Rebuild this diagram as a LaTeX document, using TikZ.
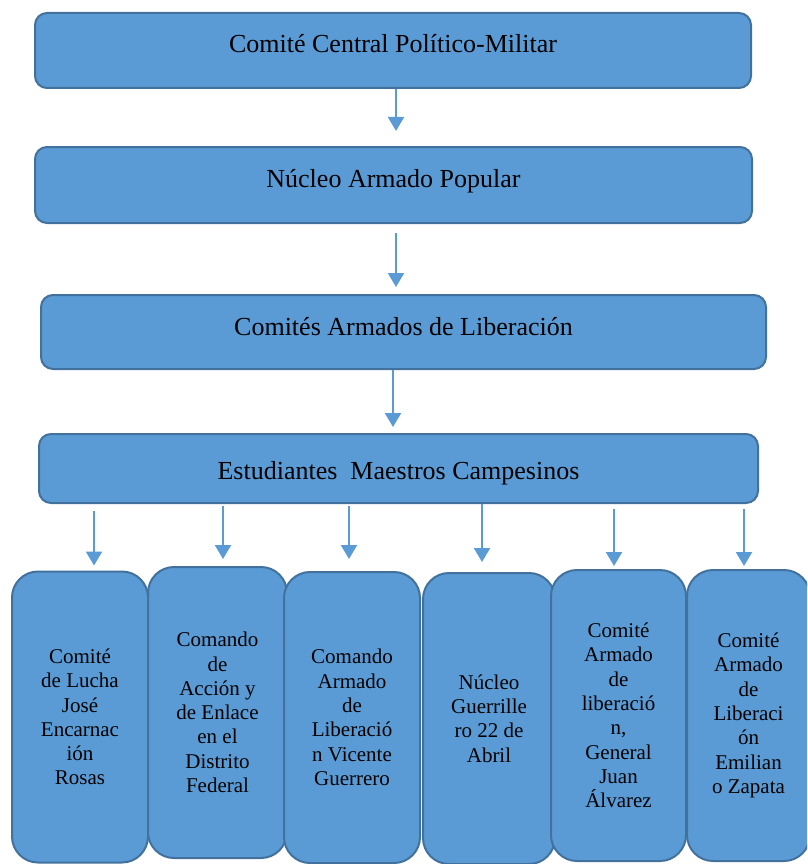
\documentclass[tikz,border=0pt]{standalone}
\usepackage{fontspec}
\setmainfont{Liberation Serif}
\usepackage{tikz}
\usetikzlibrary{calc}
\usetikzlibrary{arrows.meta}
\definecolor{boxfill}{HTML}{5B9BD5}
\definecolor{boxline}{HTML}{41719C}
\tikzset{>={Triangle[width=16pt,length=14pt]}}

\begin{document}
\begin{tikzpicture}[x=1pt,y=-1pt,
  topnode/.style={draw=boxline,fill=boxfill,line width=2pt,rounded corners=12pt,inner sep=0pt,font=\fontsize{26}{30}\selectfont},
  basenode/.style={draw=boxline,fill=boxfill,line width=2pt,rounded corners=26pt,inner sep=0pt,minimum width=136pt,minimum height=291pt,align=center,font=\fontsize{21}{24.3}\selectfont},
  link/.style={->,draw=boxfill,line width=2.2pt}]

	\path[use as bounding box] (0,0) rectangle (807,864);
	\clip (0,0) rectangle (807,864);

	% upper chain
	\node[topnode,minimum width=716pt,minimum height=75pt,text height=20pt,text depth=15pt] (ccpm) at (393,50.5) {Comité Central Político-Militar};
	\node[topnode,minimum width=717pt,minimum height=76pt,text height=20pt,text depth=16pt] (nap) at (393.5,185) {Núcleo Armado Popular};
	\node[topnode,minimum width=725pt,minimum height=74pt,text height=20pt,text depth=13pt] (cal) at (403.5,332) {Comités Armados de Liberación};
	\node[topnode,minimum width=719pt,minimum height=69pt,text height=24pt,text depth=3pt] (est) at (398.5,468.5) {Estudiantes\ \ Maestros Campesinos};

	% lower row
	\node[basenode] (c1) at (80,717) {Comité\\de Lucha\\José\\Encarnac\\ión\\Rosas};
	\node[basenode,minimum width=139pt] (c2) at (217.5,712.5) {Comando\\de\\Acción y\\de Enlace\\en el\\Distrito\\Federal};
	\node[basenode] (c3) at (352,717.5) {Comando\\Armado\\de\\Liberació\\n Vicente\\Guerrero};
	\node[basenode,minimum width=132pt] (c4) at (489,718.5) {Núcleo\\Guerrille\\ro 22 de\\Abril};
	\node[basenode,minimum width=135pt] (c5) at (618.5,715.5) {Comité\\Armado\\de\\liberació\\n,\\General\\Juan\\Álvarez};
	\node[basenode,minimum width=123pt] (c6) at (748.5,715.5) {Comité\\Armado\\de\\Liberaci\\ón\\Emilian\\o Zapata};

	\draw[link,shorten >=15pt] ($(ccpm.south)+(3,0)$) -- ($(nap.north)+(2.5,0)$);
	\draw[link,shorten <=9pt,shorten >=7pt] ($(nap.south)+(2.5,0)$) -- ($(cal.north)+(-7.5,0)$);
	\draw[link,shorten >=6pt] ($(cal.south)+(-10.5,0)$) -- ($(est.north)+(-5.5,0)$);

	\foreach \n/\d/\s/\e in {c1/14/7/5,c2/5.5/2/7,c3/-3/2/12,c4/-7/0/10,c5/-4.5/5/3,c6/-4.5/5/3}
	  \draw[link,shorten <=\s pt,shorten >=\e pt] ($(\n.north |- est.south)+(\d,0)$) -- ($(\n.north)+(\d,0)$);
\end{tikzpicture}
\end{document}
